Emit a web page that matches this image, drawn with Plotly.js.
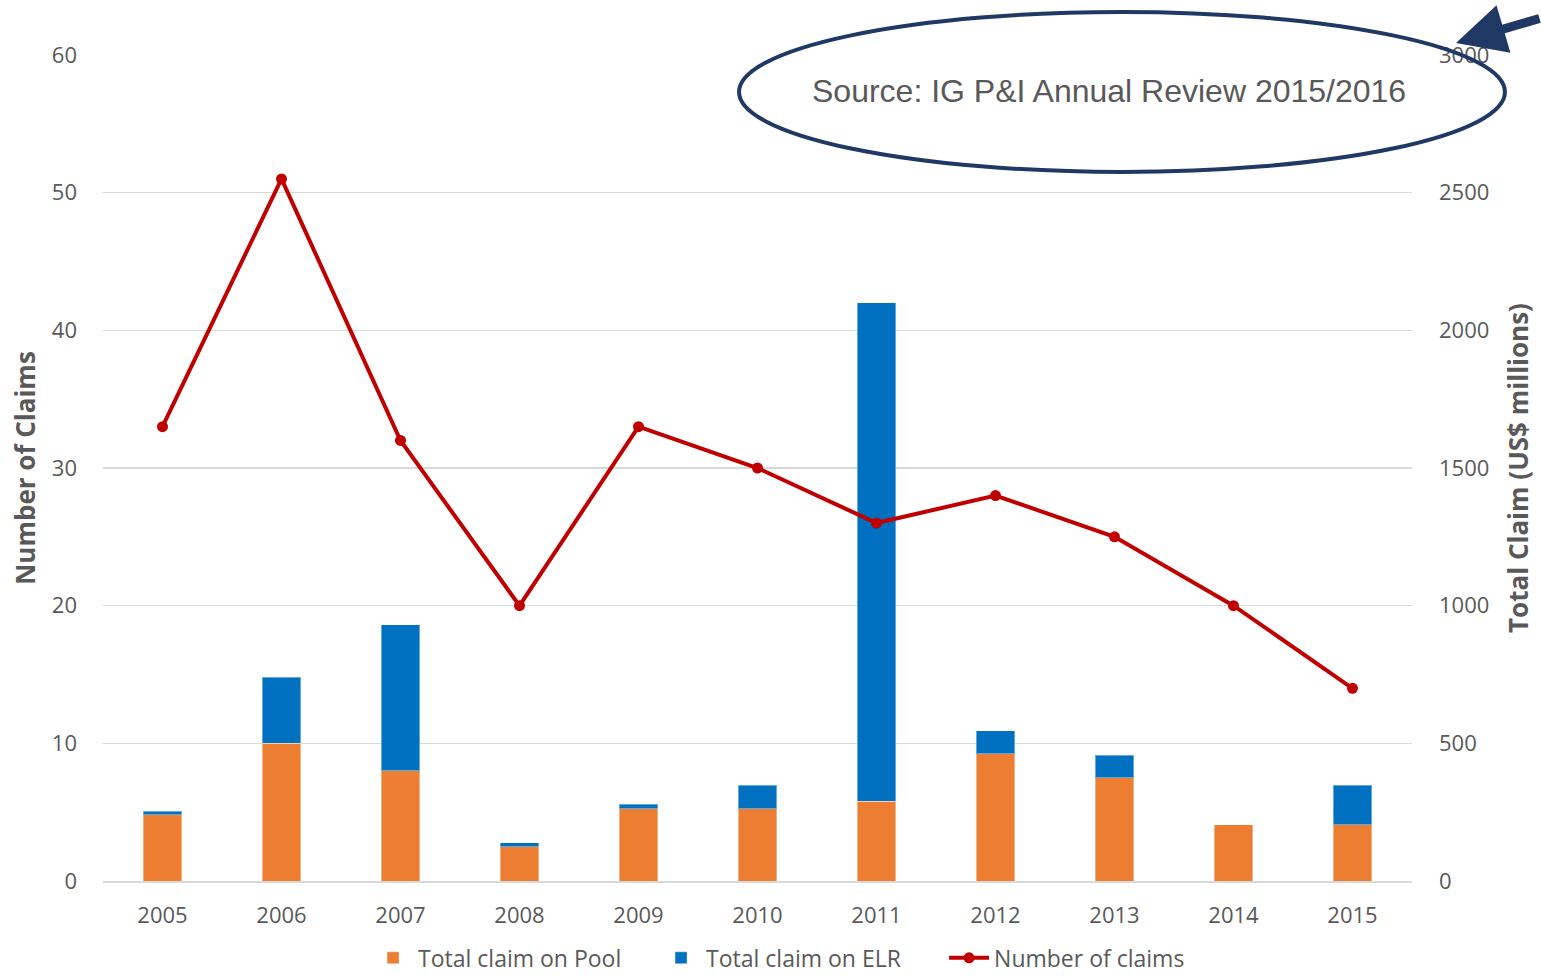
<!DOCTYPE html>
<html>
<head>
<meta charset="utf-8">
<script src="https://cdn.plot.ly/plotly-3.0.1.min.js"></script>
<style>
  html, body { margin: 0; padding: 0; background: #ffffff; }
  #chart { width: 1541px; height: 976px; }
</style>
</head>
<body>
<div id="chart"></div>
<script>
// ---- data ----
var years = ['2005', '2006', '2007', '2008', '2009', '2010', '2011', '2012', '2013', '2014', '2015'];
var claimOnPool = [240, 500, 400, 124, 263, 263, 290, 462, 375, 205, 204];
var claimOnELR  = [13, 240, 530, 15, 15, 84, 1810, 83, 81, 0, 144];
var numberOfClaims = [33, 51, 32, 20, 33, 30, 26, 28, 25, 20, 14];
var leftTicks = [0, 10, 20, 30, 40, 50, 60];
var rightTicks = [0, 500, 1000, 1500, 2000, 2500, 3000];
var sourceNote = 'Source: IG P&amp;I Annual Review 2015/2016';

var gray = '#595959';
var font = 'Open Sans, DejaVu Sans, sans-serif';

var data = [
  {
    type: 'bar', name: 'Total claim on Pool', x: years, y: claimOnPool,
    xaxis: 'x', yaxis: 'y', width: 0.32,
    marker: { color: '#ed7d31', line: { color: 'rgba(255,255,255,0.4)', width: 1 } }
  },
  {
    type: 'bar', name: 'Total claim on ELR', x: years, y: claimOnELR,
    xaxis: 'x', yaxis: 'y', width: 0.32,
    marker: { color: '#0070c0', line: { color: 'rgba(255,255,255,0.4)', width: 1 } }
  },
  {
    type: 'scatter', mode: 'lines+markers', name: 'Number of claims',
    x: years, y: numberOfClaims, xaxis: 'x', yaxis: 'y2',
    line: { color: '#c00000', width: 4 },
    marker: { color: '#c00000', size: 11 }
  }
];

var layout = {
  width: 1541, height: 976,
  margin: { l: 103, r: 129, t: 55, b: 95, pad: 0, autoexpand: false },
  paper_bgcolor: '#ffffff', plot_bgcolor: '#ffffff',
  barmode: 'stack',
  showlegend: true,
  hovermode: false,
  font: { family: font, color: gray, size: 22 },
  legend: {
    orientation: 'h', x: 0.2025, xanchor: 'left', y: -0.093, yanchor: 'middle',
    traceorder: 'normal', font: { family: font, size: 23, color: gray },
    itemwidth: 40, entrywidth: 233, bgcolor: 'rgba(0,0,0,0)'
  },
  xaxis: {
    type: 'category', range: [-0.5, 10.5],
    tickfont: { family: font, size: 22, color: gray },
    ticks: '', showline: true, linecolor: '#d9d9d9', linewidth: 2,
    showgrid: false, zeroline: false, ticklabelstandoff: 14, automargin: false
  },
  yaxis: {
    side: 'right', range: [0, 3000], tickvals: rightTicks,
    tickfont: { family: font, size: 22, color: gray },
    ticks: '', showgrid: true, gridcolor: '#d9d9d9', gridwidth: 1.5,
    zeroline: false, showline: false, ticklabelstandoff: 26, automargin: false,
    title: { text: 'Total Claim (US$ millions)', standoff: 21,
             font: { family: font, size: 26, color: gray, weight: 700 } }
  },
  yaxis2: {
    overlaying: 'y', side: 'left', range: [0, 60], tickvals: leftTicks,
    tickfont: { family: font, size: 22, color: gray },
    ticks: '', showgrid: false, zeroline: false, showline: false,
    ticklabelstandoff: 25, automargin: false,
    title: { text: 'Number of Claims', standoff: 8,
             font: { family: font, size: 26, color: gray, weight: 700 } }
  },
  shapes: [
    {
      type: 'circle', xref: 'paper', yref: 'paper', layer: 'above',
      x0: 0.4859, x1: 1.0710, y0: 0.8584, y1: 1.0521,
      line: { color: '#1f3864', width: 4 }, fillcolor: 'rgba(0,0,0,0)'
    }
  ],
  annotations: [
    {
      xref: 'paper', yref: 'paper', x: 0.7685, y: 0.9564,
      xanchor: 'center', yanchor: 'middle', showarrow: false,
      text: sourceNote,
      font: { family: 'Liberation Sans, Arial, sans-serif', size: 32, color: gray }
    },
    {
      xref: 'paper', yref: 'paper', x: 1.0336, y: 1.0145,
      text: '', showarrow: true, arrowhead: 2, arrowsize: 1.1, arrowwidth: 9,
      arrowcolor: '#1f3864', ax: 110, ay: -25, standoff: 0
    }
  ]
};

Plotly.newPlot('chart', data, layout, { staticPlot: true, displayModeBar: false });
</script>
</body>
</html>
